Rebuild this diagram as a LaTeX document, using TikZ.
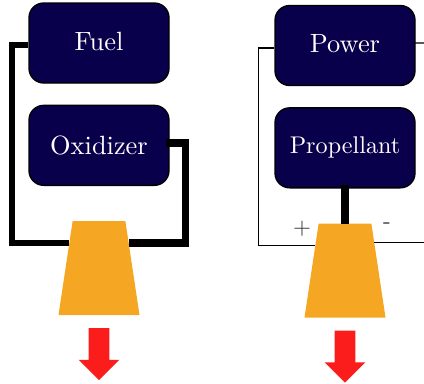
\documentclass[tikz,border=0pt]{standalone}
\usepackage{xcolor}
\usepackage{fontspec}
\setmainfont{lmroman10-regular}[Extension=.otf]
\usetikzlibrary{arrows.meta,calc,positioning,shapes.geometric,shapes.arrows}
\definecolor{tanknavy}{HTML}{08004A}
\definecolor{nozzleorange}{HTML}{F5A623}
\definecolor{thrustred}{HTML}{FB1C1C}
\tikzset{
every picture/.style={line join=miter},
tank box/.style={
  draw=black,
  rounded corners=11pt,
  line width=1pt,
  minimum width=105pt,
  minimum height=60pt,
  inner sep=0pt,
  fill=tanknavy,
  text=white,
  align=center,
  font=\fontsize{19.8}{24}\selectfont
},
nozzle node/.style={
  trapezium,
  trapezium stretches=true,
  trapezium left angle=75,
  trapezium right angle=75,
  minimum width=60.75pt,
  minimum height=70.5pt,
  inner sep=1pt,
  outer sep=0pt,
  fill=nozzleorange
},
thrust arrow/.style={
  single arrow,
  shape border rotate=270,
  single arrow head extend=7.5pt,
  single arrow tip angle=90,
  minimum height=39pt,
  inner sep=7.5pt,
  outer sep=0pt,
  fill=thrustred
},
thick feed/.style={draw=black, line width=4.5pt},
thicker feed/.style={draw=black, line width=5.5pt},
power wire/.style={draw=black, line width=1pt},
pole label/.style={font=\fontsize{17.3}{20}\selectfont, text=black!80, inner sep=0pt}
}

\begin{document}
\begin{tikzpicture}[x=0.75pt,y=-0.75pt]
\useasboundingbox (0,0) rectangle (424,383);
% chemical
\node[tank box,text depth=3pt] (fuel) at (99,43) {Fuel};
\node[tank box,below=15.75pt of fuel] (oxidizer) {Oxidizer};
\node[nozzle node,below=26.25pt of oxidizer] (chemnozzle) {};
\node[thrust arrow,below=9.75pt of chemnozzle] (chemthrust) {};
\draw[thick feed] (fuel.182) -- ++(-16.5,0) |- (chemnozzle.140);
\draw[thicker feed] ([xshift=-3pt]oxidizer.2) -- ++(19.5,0) |- (chemnozzle.40);
% electric
\node[tank box,text depth=3pt] (power) at (345,45.5) {Power};
\node[tank box,below=15.75pt of power,font=\fontsize{18.1}{22}\selectfont] (propellant) {Propellant};
\node[nozzle node,below=26.25pt of propellant] (elecnozzle) {};
\node[thrust arrow,below=9.75pt of elecnozzle] (electhrust) {};
\coordinate (powerout) at (424,43);
\coordinate (returnout) at (424,0);
\draw[thicker feed] ([yshift=3pt]propellant.south) -- (elecnozzle.north);
\draw[power wire] (power.182) -- ++(-16,0) |- (elecnozzle.140);
\draw[power wire] ([xshift=-2pt]power.2) -- (powerout);
\draw[power wire] (elecnozzle.44) -- (elecnozzle.44 -| returnout);
\node[pole label] (plus) at (302,229) {+};
\node[pole label] (minus) at (387,226) {-};
\end{tikzpicture}
\end{document}
